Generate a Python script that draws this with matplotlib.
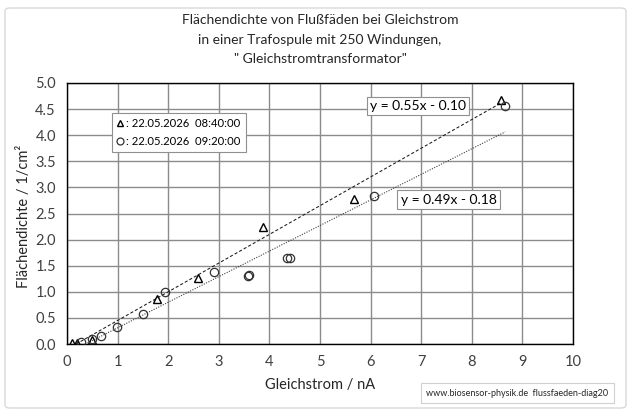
import matplotlib
matplotlib.use("Agg")
import matplotlib.pyplot as plt
import numpy as np
from matplotlib.patches import FancyBboxPatch
from matplotlib.lines import Line2D

plt.rcParams['font.family'] = ['Lato', 'DejaVu Sans']

# --- data ---
series_labels = [": 22.05.2026  08:40:00", ": 22.05.2026  09:20:00"]
x_tri = [0.09, 0.19, 0.50, 1.78, 2.59, 3.88, 5.67, 8.57]
y_tri = [0.01, 0.02, 0.07, 0.86, 1.27, 2.25, 2.78, 4.67]
x_circ = [0.27, 0.50, 0.68, 0.99, 1.50, 1.94, 2.91, 3.57, 3.60, 4.35, 4.40, 6.07, 8.66]
y_circ = [0.04, 0.10, 0.16, 0.33, 0.57, 1.00, 1.37, 1.30, 1.32, 1.64, 1.65, 2.84, 4.56]
fit_tri = (0.55, -0.10)
fit_circ = (0.49, -0.18)
eq_labels = ["y = 0.55x - 0.10", "y = 0.49x - 0.18"]
title = "Flächendichte von Flußfäden bei Gleichstrom\nin einer Trafospule mit 250 Windungen,\n\" Gleichstromtransformator\""
xlabel = "Gleichstrom / nA"
ylabel = "Flächendichte / 1/cm²"
watermark = "www.biosensor-physik.de  flussfaeden-diag20"
xticks = list(range(0, 11))
yticks = [0.0, 0.5, 1.0, 1.5, 2.0, 2.5, 3.0, 3.5, 4.0, 4.5, 5.0]

W, H = 639, 413
fig = plt.figure(figsize=(W / 100, H / 100), dpi=100)

# outer border
border = FancyBboxPatch((5 / W, 5 / H), (626 - 5) / W, (405 - 5) / H,
                        boxstyle="round,pad=0,rounding_size=0.008",
                        transform=fig.transFigure, facecolor='none',
                        edgecolor='#d9d9d9', linewidth=1.0, zorder=-5)
fig.patches.append(border)

ax = fig.add_axes([67 / W, (H - 344) / H, (573 - 67) / W, (344 - 83) / H])
ax.set_zorder(2)
ax.set_xlim(0, 10)
ax.set_ylim(0, 5)
ax.set_xticks(xticks)
ax.set_yticks(yticks)
ax.set_xticklabels([str(t) for t in xticks])
ax.set_yticklabels([f"{t:.1f}" for t in yticks])
ax.grid(True, color='#8c8c8c', linewidth=1.0)
ax.set_axisbelow(True)
ax.tick_params(length=0, labelsize=10.5, colors='#404040', pad=8)
for s in ax.spines.values():
    s.set_color('black')
    s.set_linewidth(1.0)

# trendlines
xt = np.array([min(x_tri), max(x_tri)])
ax.plot(xt, fit_tri[0] * xt + fit_tri[1], color='#1a1a1a', lw=0.75, ls=(0, (3, 2)), zorder=2)
xc = np.array([min(x_circ), max(x_circ)])
ax.plot(xc, fit_circ[0] * xc + fit_circ[1], color='#404040', lw=0.8, ls=(0, (1, 1.3)), zorder=2)

ax.plot(x_tri, y_tri, ls='none', marker='^', ms=5.5, mfc='none', mec='black', mew=1.0, zorder=3)
ax.plot(x_circ, y_circ, ls='none', marker='o', ms=6, mfc='none', mec='#333333', mew=0.9, zorder=3)

bbox_eq = dict(boxstyle='square,pad=0.25', facecolor='white', edgecolor='#909090', linewidth=0.8)
ax.text((418 - 67) / 506, (344 - 106) / 261, eq_labels[0], transform=ax.transAxes,
        ha='center', va='center', fontsize=10, bbox=bbox_eq, zorder=4)
ax.text((448.5 - 67) / 506, (344 - 199.5) / 261, eq_labels[1], transform=ax.transAxes,
        ha='center', va='center', fontsize=10, bbox=bbox_eq, zorder=4)

handles = [Line2D([], [], ls='none', marker='^', ms=5, mfc='none', mec='black', mew=1.0),
           Line2D([], [], ls='none', marker='o', ms=5, mfc='none', mec='#333333', mew=0.9)]
leg = ax.legend(handles, series_labels, loc='upper left',
                bbox_to_anchor=(112 / W, 1 - 113 / H), bbox_transform=fig.transFigure,
                fontsize=8.1, handlelength=0.6, handletextpad=0.2, borderpad=0.45,
                labelspacing=0.65, fancybox=False, framealpha=1, edgecolor='#909090',
                borderaxespad=0)
leg.get_frame().set_linewidth(0.8)

fig.text(320 / W, 1 - 14 / H, title, ha='center', va='top', fontsize=10.0,
         linespacing=1.75, color='#262626')
fig.text(320 / W, 1 - 385 / H, xlabel, ha='center', va='center', fontsize=10.5, color='#262626')
fig.text(24 / W, 1 - 216 / H, ylabel, ha='center', va='center', rotation=90,
         fontsize=10.5, color='#262626')
fig.text(517.5 / W, 1 - 393 / H, watermark, ha='center', va='center', fontsize=6.5,
         color='#262626',
         bbox=dict(boxstyle='square,pad=0.6', facecolor='white', edgecolor='#d0d0d0', linewidth=0.8))

fig.savefig("out.png", dpi=100)
